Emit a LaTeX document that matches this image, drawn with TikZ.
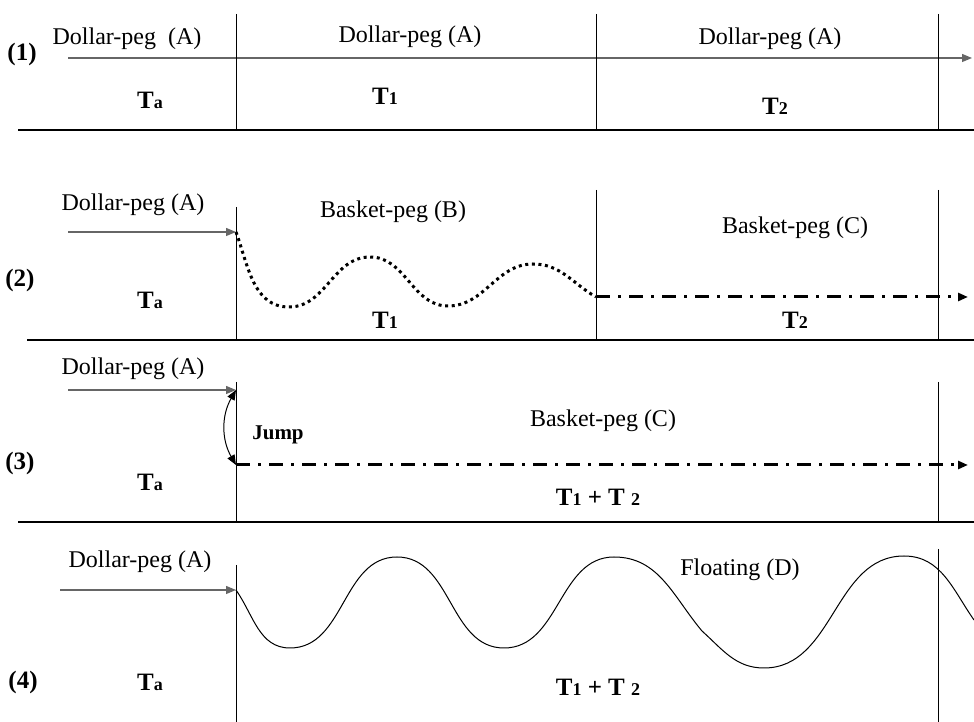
\documentclass[tikz,border=0pt]{standalone}
\usepackage{fontspec}
\setmainfont{Liberation Serif}
\usetikzlibrary{arrows.meta}

\newcommand{\Tsub}[1]{T{\fontsize{9}{9}\selectfont #1}}

\begin{document}
\begin{tikzpicture}[x=0.5pt,y=0.5pt,>={Triangle[length=5pt,width=4pt]},
  lbl/.style={font=\fontsize{12}{14}\selectfont, inner sep=0pt},
  per/.style={font=\bfseries\fontsize{12.5}{14}\selectfont, inner sep=0pt},
  tick/.style={line width=0.5pt},
  rule/.style={line width=0.9pt},
  peg/.style={->,draw=black!60,line width=0.6pt},
  basket/.style={->,line width=1.5pt,dash pattern=on 7pt off 4pt on 1.5pt off 4pt},
  wavy/.style={line width=1.5pt,dash pattern=on 1.5pt off 1.8pt},
  float/.style={line width=0.5pt}]
  \useasboundingbox (0,0) rectangle (974,722);

  % (1) dollar peg throughout
  \coordinate (s1) at (68,664);
  \coordinate (e1) at (972,664);
  \draw[peg] (s1) -- (e1);
  \foreach \x in {236,596,938} \draw[tick] (\x,708) -- (\x,592);
  \draw[rule] (18,592) -- (974,592);
  \node[per] (n1) at (22,667) {(1)};
  \node[lbl] (a1) at (127,683) {Dollar-peg\ \ (A)};
  \node[lbl] (b1) at (410,685) {Dollar-peg (A)};
  \node[lbl] (c1) at (770,683) {Dollar-peg (A)};
  \node[per] (ta1) at (150,622) {\Tsub{a}};
  \node[per] (t11) at (385,626) {\Tsub{1}};
  \node[per] (t21) at (775,616) {\Tsub{2}};

  % (2) dollar peg, basket B, basket C
  \coordinate (s2) at (68,490);
  \coordinate (j2) at (236,490);
  \coordinate (k2) at (596,425);
  \coordinate (e2) at (968,425);
  \draw[peg] (s2) -- (j2);
  \draw[tick] (236,515) -- (236,382);
  \foreach \x in {596,938} \draw[tick] (\x,532) -- (\x,382);
  \draw[rule] (27,382) -- (974,382);
  \draw[wavy] (j2) to[out=-70,in=180] (289,415) to[out=0,in=180] (370,465)
    to[out=0,in=180] (448,416) to[out=0,in=180] (533,458) to[out=0,in=150] (k2);
  \draw[basket] (k2) -- (e2);
  \node[per] (n2) at (20,442) {(2)};
  \node[lbl] (a2) at (133,517) {Dollar-peg (A)};
  \node[lbl] (b2) at (393,510) {Basket-peg (B)};
  \node[lbl] (c2) at (795,494) {Basket-peg (C)};
  \node[per] (ta2) at (150,422) {\Tsub{a}};
  \node[per] (t12) at (385,402) {\Tsub{1}};
  \node[per] (t22) at (795,402) {\Tsub{2}};

  % (3) jump to basket C
  \coordinate (s3) at (68,332);
  \coordinate (j3) at (236,332);
  \coordinate (k3) at (236,257);
  \coordinate (e3) at (968,257);
  \draw[peg] (s3) -- (j3);
  \foreach \x in {236,938} \draw[tick] (\x,340) -- (\x,200);
  \draw[rule] (18,200) -- (974,200);
  \draw[<->,line width=0.5pt] (j3) to[bend right=30] (k3);
  \draw[basket] (k3) -- (e3);
  \node[per,font=\bfseries\fontsize{10.5}{12}\selectfont] (jmp) at (278,287) {Jump};
  \node[per] (n3) at (20,259) {(3)};
  \node[lbl] (a3) at (133,353) {Dollar-peg (A)};
  \node[lbl] (c3) at (603,301) {Basket-peg (C)};
  \node[per] (ta3) at (150,240) {\Tsub{a}};
  \node[per] (t3) at (598,225) {\Tsub{1} + T {\fontsize{9}{9}\selectfont 2}};

  % (4) floating
  \coordinate (s4) at (60,132);
  \coordinate (j4) at (236,132);
  \coordinate (e4) at (974,102);
  \draw[peg] (s4) -- (j4);
  \draw[tick] (236,157) -- (236,0);
  \draw[tick] (938,173) -- (938,0);
  \draw[float] (j4) to[out=-55,in=180] (290,74) to[out=0,in=180] (397,165)
    to[out=0,in=180] (504,74) to[out=0,in=180] (614,165)
    to[out=0,in=130] (702,91) to[out=-42,in=180] (764,54)
    to[out=0,in=180] (904,166) to[out=0,in=125] (e4);
  \node[per] (n4) at (23,40) {(4)};
  \node[lbl] (a4) at (140,160) {Dollar-peg (A)};
  \node[lbl] (d4) at (740,152) {Floating (D)};
  \node[per] (ta4) at (150,40) {\Tsub{a}};
  \node[per] (t4) at (598,35) {\Tsub{1} + T {\fontsize{9}{9}\selectfont 2}};
\end{tikzpicture}
\end{document}
